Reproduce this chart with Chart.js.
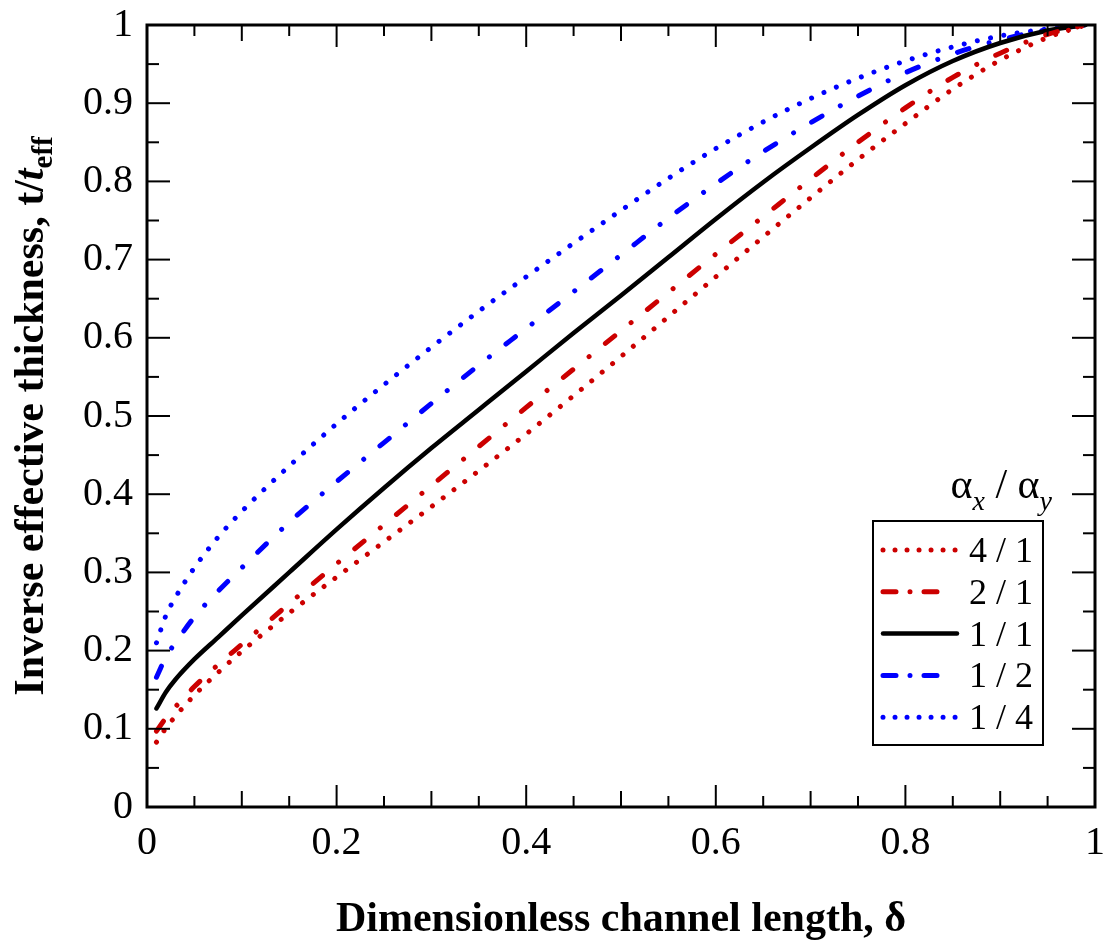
<!DOCTYPE html>
<html>
<head>
<meta charset="utf-8">
<script src="https://cdn.jsdelivr.net/npm/chart.js@4"></script>
<style>
html, body { margin: 0; padding: 0; background: #fff; }
#wrap { width: 1106px; height: 943px; }
</style>
</head>
<body>
<div id="wrap"><canvas id="thicknessChart"></canvas></div>
<script>
// dimensionless channel length
const delta = [0.01, 0.02, 0.03, 0.05, 0.075, 0.1, 0.15, 0.2, 0.25, 0.3, 0.35, 0.4,
    0.45, 0.5, 0.55, 0.6, 0.65, 0.7, 0.75, 0.8, 0.85, 0.9, 0.95, 0.99];

// t / t_eff for each alpha_x / alpha_y
const ratio41 = [0.083, 0.101, 0.116, 0.143, 0.172, 0.199, 0.248, 0.294, 0.339, 0.384, 0.430, 0.477,
    0.526, 0.576, 0.627, 0.678, 0.729, 0.779, 0.828, 0.874, 0.918, 0.955, 0.984, 1.0];
const ratio21 = [0.097, 0.114, 0.128, 0.154, 0.182, 0.208, 0.260, 0.311, 0.361, 0.411, 0.461, 0.511,
    0.560, 0.609, 0.658, 0.707, 0.755, 0.803, 0.850, 0.894, 0.933, 0.964, 0.988, 1.0];
const ratio11 = [0.126, 0.147, 0.163, 0.189, 0.217, 0.245, 0.300, 0.355, 0.408, 0.459, 0.508, 0.557,
    0.606, 0.654, 0.703, 0.752, 0.799, 0.843, 0.885, 0.923, 0.954, 0.977, 0.993, 1.0];
const ratio12 = [0.166, 0.192, 0.210, 0.243, 0.276, 0.306, 0.364, 0.416, 0.466, 0.516, 0.565, 0.612,
    0.659, 0.706, 0.753, 0.797, 0.838, 0.875, 0.909, 0.939, 0.963, 0.981, 0.994, 1.0];
const ratio14 = [0.210, 0.245, 0.268, 0.306, 0.345, 0.378, 0.436, 0.490, 0.540, 0.588, 0.634, 0.678,
    0.721, 0.763, 0.804, 0.842, 0.876, 0.906, 0.932, 0.954, 0.972, 0.986, 0.995, 1.0];

const seriesLabels = ['4 / 1', '2 / 1', '1 / 1', '1 / 2', '1 / 4'];
const seriesValues = [ratio41, ratio21, ratio11, ratio12, ratio14];

const RED = '#cc0000';
const BLUE = '#0000ff';
const SERIF = '"Liberation Serif", "Times New Roman", serif';

const styles = [
    { color: RED, width: 5, dash: [0.01, 13.5], legendDash: [0.01, 12], legendEnd: 957 },
    { color: RED, width: 5, dash: [12, 21, 0.01, 21], legendDash: [13, 14, 0.01, 14], legendEnd: 939 },
    { color: '#000', width: 4.5, dash: [], legendDash: [], legendEnd: 957 },
    { color: BLUE, width: 5, dash: [12, 21, 0.01, 21], legendDash: [13, 14, 0.01, 14], legendEnd: 939 },
    { color: BLUE, width: 5, dash: [0.01, 13.5], legendDash: [0.01, 12], legendEnd: 957 }
];

const datasets = seriesValues.map(function (vals, i) {
    return {
        label: seriesLabels[i],
        data: vals.map(function (v, j) { return { x: delta[j], y: v }; }),
        showLine: true,
        borderColor: styles[i].color,
        borderWidth: styles[i].width,
        borderDash: styles[i].dash,
        borderCapStyle: 'round',
        pointRadius: 0,
        cubicInterpolationMode: 'monotone'
    };
});

function seg(ctx, x1, y1, x2, y2) {
    ctx.beginPath();
    ctx.moveTo(x1, y1);
    ctx.lineTo(x2, y2);
    ctx.stroke();
}

function drawRuns(ctx, runs, x, y, align) {
    let total = 0;
    runs.forEach(function (r) { ctx.font = r.font; total += ctx.measureText(r.text).width; });
    let cx = align === 'center' ? x - total / 2 : (align === 'right' ? x - total : x);
    runs.forEach(function (r) {
        ctx.font = r.font;
        ctx.fillText(r.text, cx, y + (r.dy || 0));
        cx += ctx.measureText(r.text).width;
    });
}

function tickText(value) {
    return String(Number(value.toFixed(2)));
}

const framePlugin = {
    id: 'frame',
    afterDraw: function (chart) {
        const ctx = chart.ctx;
        const a = chart.chartArea;
        const x = chart.scales.x;
        const y = chart.scales.y;
        ctx.save();
        ctx.strokeStyle = '#000';
        ctx.lineCap = 'butt';
        ctx.lineWidth = 2;
        for (let i = 0; i <= 20; i++) {
            const v = i / 20;
            const px = x.getPixelForValue(v);
            const xl = i % 4 === 0 ? 22 : (i % 2 === 0 ? 16 : 11);
            seg(ctx, px, a.bottom, px, a.bottom - xl);
            seg(ctx, px, a.top, px, a.top + xl);
            const py = y.getPixelForValue(v);
            const yl = i % 2 === 0 ? 23 : 12;
            seg(ctx, a.left, py, a.left + yl, py);
            seg(ctx, a.right, py, a.right - yl, py);
        }
        ctx.lineWidth = 3;
        ctx.strokeRect(a.left, a.top, a.right - a.left, a.bottom - a.top);

        // axis titles
        ctx.fillStyle = '#000';
        ctx.textBaseline = 'alphabetic';
        drawRuns(ctx, [{ text: 'Dimensionless channel length, \u03b4', font: 'bold 42px ' + SERIF }],
            (a.left + a.right) / 2, 931, 'center');

        ctx.save();
        ctx.translate(43, (a.top + a.bottom) / 2);
        ctx.rotate(-Math.PI / 2);
        drawRuns(ctx, [
            { text: 'Inverse effective thickness, t/', font: 'bold 42px ' + SERIF },
            { text: 't', font: 'italic bold 42px ' + SERIF },
            { text: 'eff', font: 'bold 29px ' + SERIF, dy: 9 }
        ], 0, 0, 'center');
        ctx.restore();

        // legend
        drawRuns(ctx, [
            { text: '\u03b1', font: '42px ' + SERIF },
            { text: 'x', font: 'italic 28px ' + SERIF, dy: 12 },
            { text: ' / ', font: '42px ' + SERIF },
            { text: '\u03b1', font: '42px ' + SERIF },
            { text: 'y', font: 'italic 28px ' + SERIF, dy: 12 }
        ], 1052, 498, 'right');

        ctx.fillStyle = '#fff';
        ctx.fillRect(873, 521, 170, 224);
        ctx.lineWidth = 2;
        ctx.strokeRect(873, 521, 170, 224);
        chart.data.datasets.forEach(function (ds, i) {
            const ly = 550 + i * 41.8;
            const st = styles[i];
            ctx.strokeStyle = st.color;
            ctx.lineWidth = st.width;
            ctx.lineCap = 'round';
            ctx.setLineDash(st.legendDash);
            seg(ctx, 883, ly, st.legendEnd, ly);
            ctx.setLineDash([]);
            ctx.fillStyle = '#000';
            ctx.font = '36px ' + SERIF;
            ctx.textAlign = 'left';
            ctx.fillText(ds.label, 969, ly + 12);
        });
        ctx.restore();
    }
};

new Chart(document.getElementById('thicknessChart'), {
    type: 'scatter',
    data: { datasets: datasets },
    options: {
        responsive: true,
        maintainAspectRatio: false,
        animation: false,
        layout: { padding: { top: 25, right: 11, left: 0, bottom: 0 } },
        plugins: { legend: { display: false }, tooltip: { enabled: false } },
        scales: {
            x: {
                type: 'linear',
                min: 0,
                max: 1,
                grid: { display: false, drawTicks: false },
                border: { display: false },
                ticks: {
                    stepSize: 0.2, color: '#000', padding: 12,
                    font: { family: SERIF, size: 40 }, callback: tickText
                },
                afterFit: function (scale) {
                    scale.height = 136;
                    scale.paddingLeft = 0;
                    scale.paddingRight = 0;
                }
            },
            y: {
                type: 'linear',
                min: 0,
                max: 1,
                grid: { display: false, drawTicks: false },
                border: { display: false },
                ticks: {
                    stepSize: 0.1, color: '#000', padding: 14,
                    font: { family: SERIF, size: 40 }, callback: tickText
                },
                afterFit: function (scale) {
                    scale.width = 147;
                    scale.paddingTop = 0;
                    scale.paddingBottom = 0;
                }
            }
        }
    },
    plugins: [framePlugin]
});
</script>
</body>
</html>
